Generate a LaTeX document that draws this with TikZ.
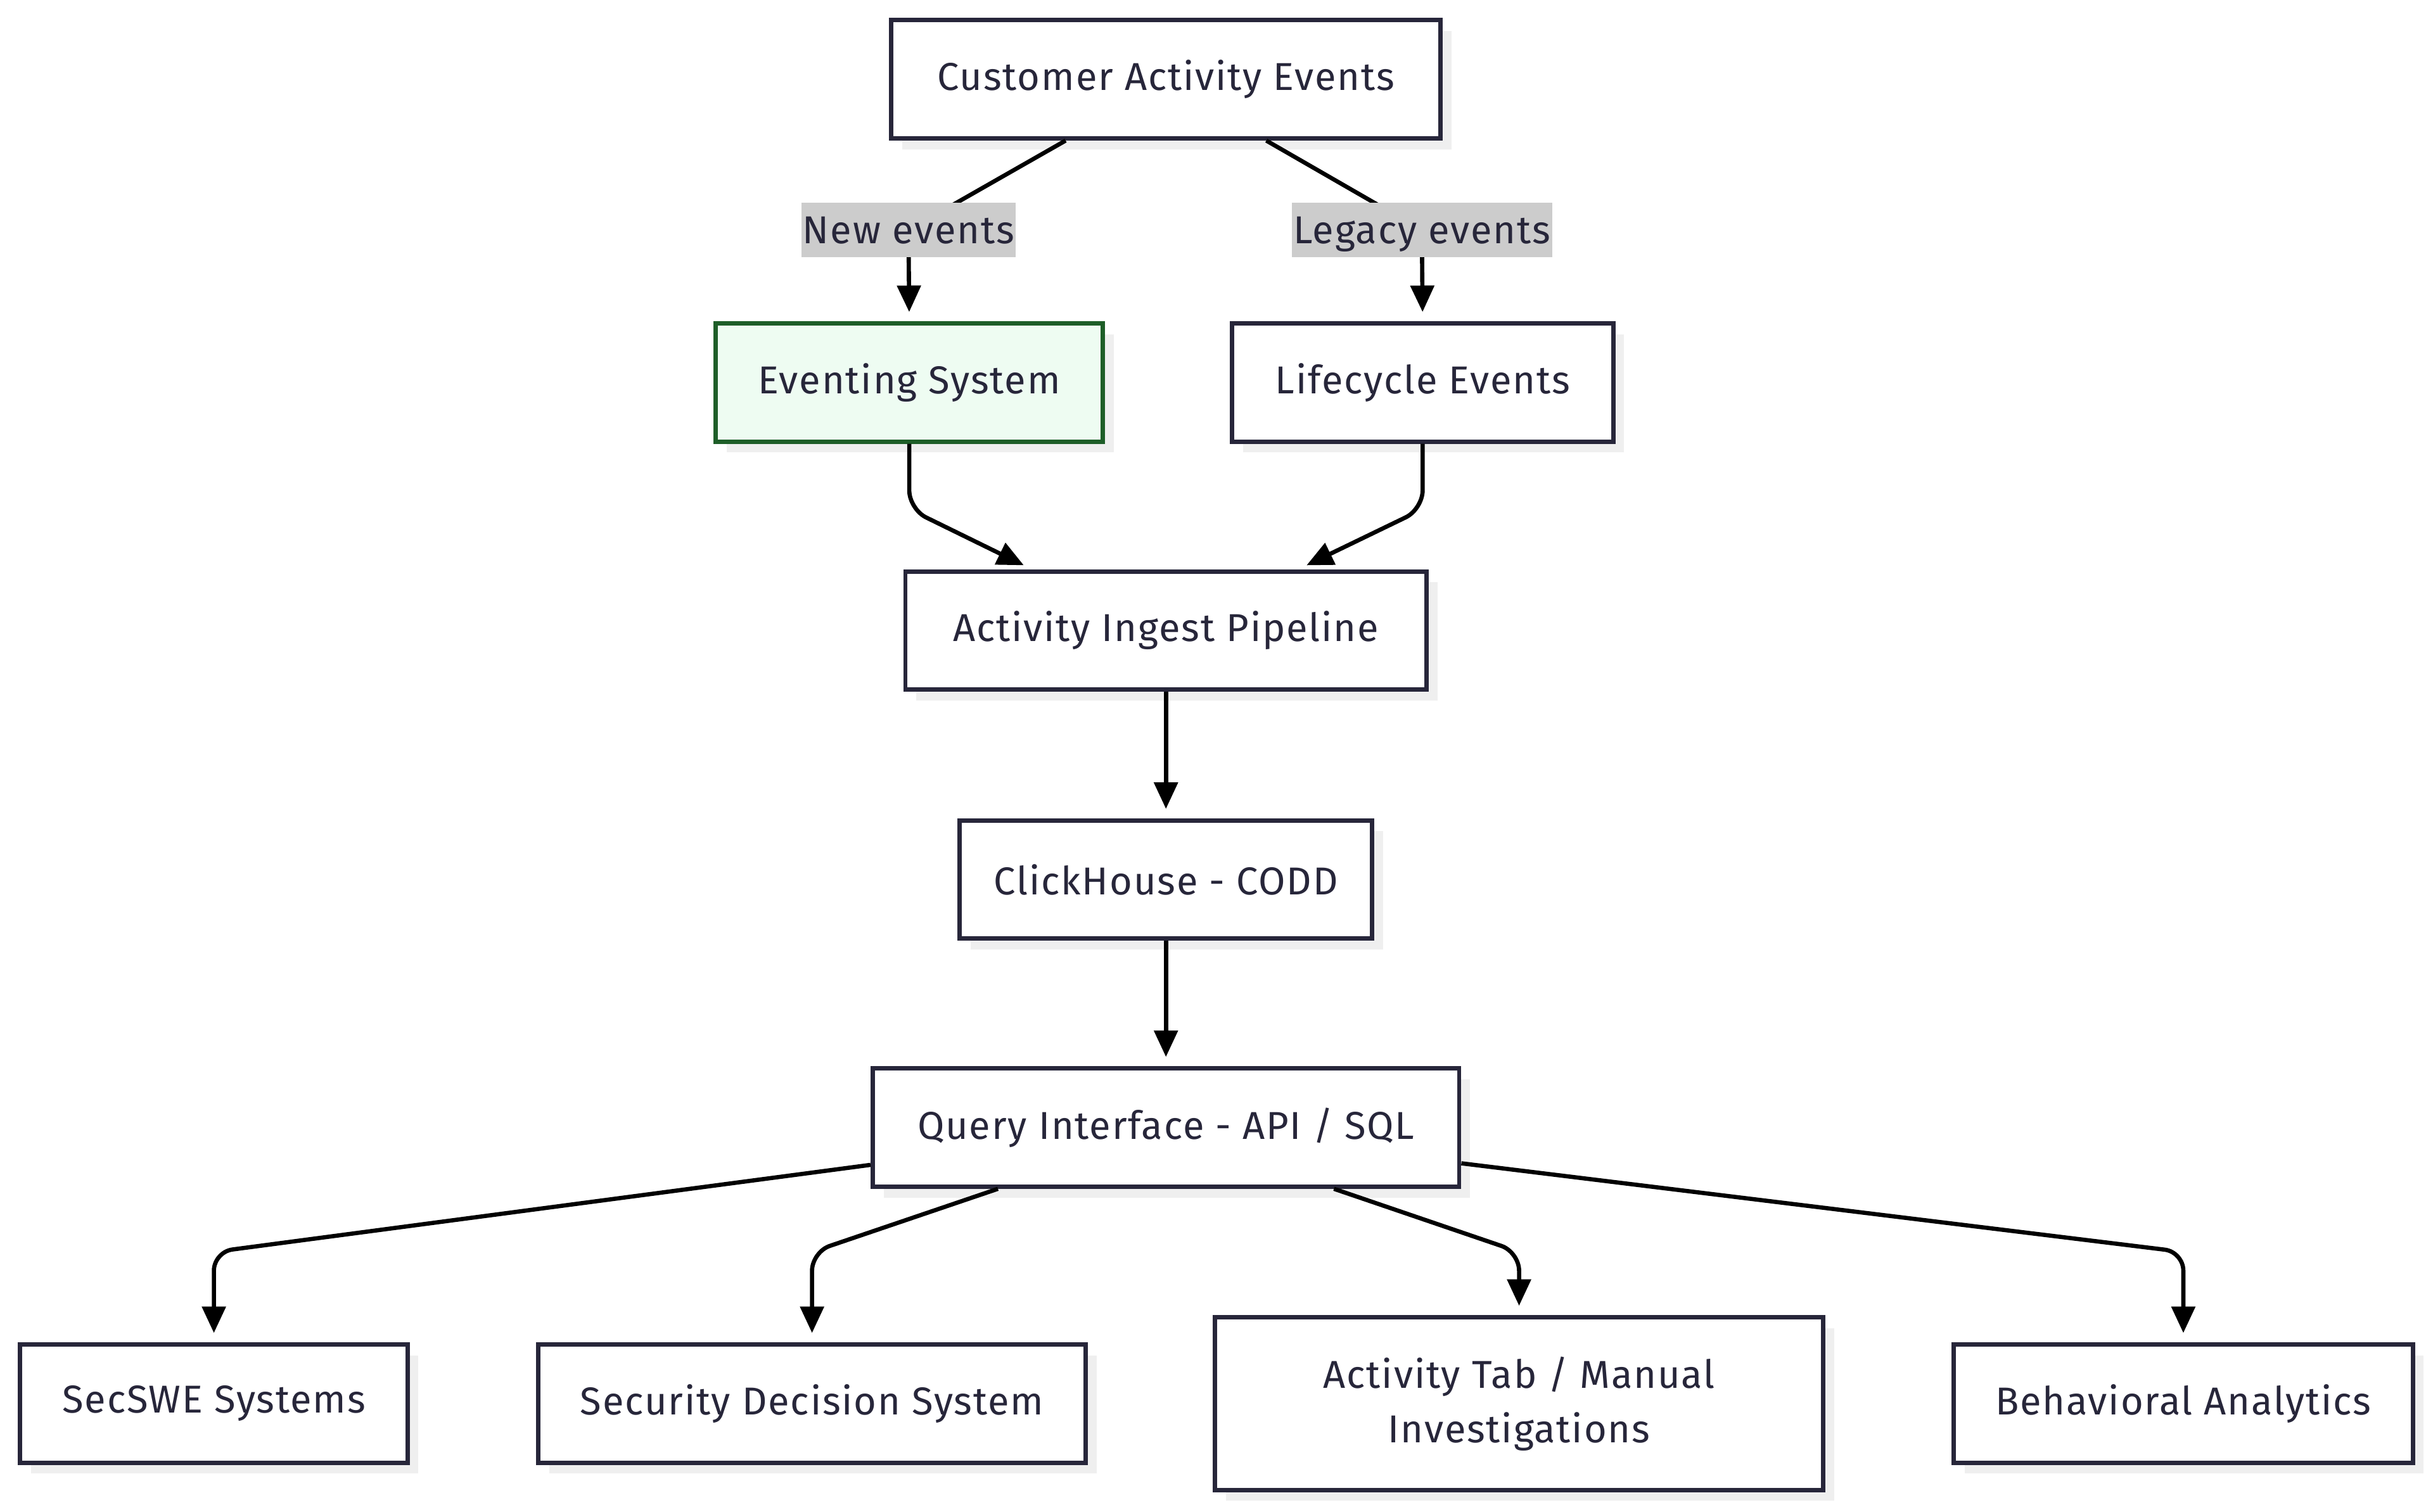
\documentclass[tikz,border=0pt]{standalone}
\usepackage{fontspec}
\setmainfont{Fira Sans}[LetterSpace=3]
\usetikzlibrary{arrows.meta, shadows}
\definecolor{boxline}{RGB}{39,38,58}
\definecolor{greenline}{RGB}{30,94,40}
\definecolor{greenfill}{RGB}{238,252,242}
\definecolor{labelgray}{RGB}{204,204,204}
\definecolor{shadowgray}{RGB}{239,239,239}
\tikzset{
    box/.style={
        draw=boxline, line width=1.4pt, fill=white, text=boxline,
        minimum height=38pt, inner sep=0pt, align=center,
        general shadow={fill=shadowgray, shadow xshift=3.5pt, shadow yshift=-3.5pt},
        font=\fontsize{12.5}{17.5}\selectfont
    },
    greenbox/.style={box, draw=greenline, fill=greenfill},
    elabel/.style={
        fill=labelgray, text=boxline, inner xsep=0.5pt, inner ysep=0pt,
        text height=10.5pt, text depth=2pt,
        minimum height=17.5pt, font=\fontsize{12.5}{14}\selectfont
    },
    edge/.style={
        draw=black, line width=1.35pt, -{Triangle[length=8.5pt, width=7.5pt]},
        rounded corners=6pt, shorten >=3pt
    }
}

\begin{document}
\begin{tikzpicture}[x=0.5pt, y=-0.5pt]

    \useasboundingbox (0,0) rectangle (1564,972);

    % sources
    \node[box, minimum width=176.5pt] (cae) at (749.5,51) {Customer Activity Events};
    \node[greenbox, minimum width=124.5pt] (evs) at (584.5,246) {Eventing System};
    \node[box, minimum width=122.5pt] (lce) at (914.5,246) {Lifecycle Events};

    % pipeline
    \node[box, minimum width=167.5pt] (ing) at (749.5,405.5) {Activity Ingest Pipeline};
    \node[box, minimum width=132.5pt] (chs) at (749.5,565.5) {ClickHouse - CODD};
    \node[box, minimum width=188.5pt] (qry) at (749.5,725) {Query Interface - API / SQL};

    % consumers
    \node[box, minimum width=124.5pt] (sec) at (137.5,902.5) {SecSWE Systems};
    \node[box, minimum width=176pt] (sds) at (522,902.5) {Security Decision System};
    \node[box, minimum width=195.5pt, minimum height=55.5pt] (atab) at (976.5,902.5) {Activity Tab / Manual\\Investigations};
    \node[box, minimum width=147.5pt] (bha) at (1403.5,902.5) {Behavioral Analytics};

    \coordinate (newpt) at (584,148);
    \coordinate (legpt) at (914,148);
    \coordinate (fork) at (0,805);

    \draw[edge] ([xshift=-32.25pt]cae.south) -- (newpt) -- (evs.north);
    \draw[edge] ([xshift=32.25pt]cae.south) -- (legpt) -- (lce.north);

    \draw[edge] (evs.south) -- ++(0,42) -- ([xshift=-43pt]ing.north);
    \draw[edge] (lce.south) -- ++(0,42) -- ([xshift=42.5pt]ing.north);

    \draw[edge] (ing) -- (chs);
    \draw[edge] (chs) -- (qry);

    \draw[edge] ([yshift=-12pt]qry.west) -- (sec.north |- fork) -- (sec.north);
    \draw[edge] ([xshift=-54pt]qry.south) -- (sds.north |- fork) -- (sds.north);
    \draw[edge] ([xshift=54pt]qry.south) -- (atab.north |- fork) -- (atab.north);
    \draw[edge] ([yshift=-11.5pt]qry.east) -- (bha.north |- fork) -- (bha.north);

    % edge labels
    \node[elabel] (newlbl) at (newpt) {New events};
    \node[elabel] (leglbl) at (legpt) {Legacy events};

\end{tikzpicture}
\end{document}
